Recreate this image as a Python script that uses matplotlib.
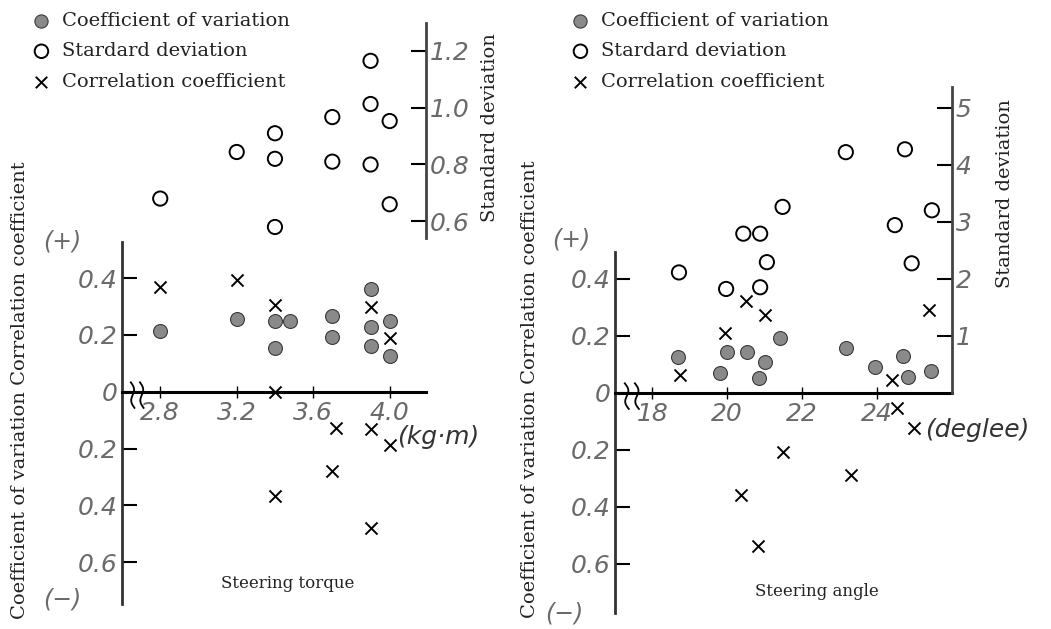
"""
Steering torque / steering angle vs. coefficient of variation,
standard deviation and correlation coefficient (two panels).
"""

import numpy as np
import matplotlib.pyplot as plt

# ---- left panel: steering torque (kg.m) ----
torque_cv_x = [2.8, 3.2, 3.4, 3.48, 3.4, 3.7, 3.7, 3.9, 3.9, 3.9, 4.0, 4.0]
torque_cv_y = [0.214, 0.256, 0.25, 0.25, 0.153, 0.266, 0.193, 0.36, 0.227, 0.16, 0.25, 0.126]

torque_sd_x = [2.8, 3.2, 3.4, 3.4, 3.4, 3.7, 3.7, 3.9, 3.9, 3.9, 4.0, 4.0]
torque_sd_y = [0.68, 0.844, 0.91, 0.82, 0.58, 0.967, 0.81, 1.165, 1.013, 0.80, 0.953, 0.66]

torque_r_x = [2.8, 3.2, 3.4, 3.9, 4.0, 3.4, 3.72, 3.9, 4.0, 3.7, 3.4, 3.9]
torque_r_y = [0.37, 0.393, 0.305, 0.30, 0.188, 0.0, -0.128, -0.131, -0.188, -0.28, -0.368, -0.48]

# ---- right panel: steering angle (degree) ----
angle_cv_x = [18.68, 19.82, 20.0, 20.53, 21.0, 20.84, 21.4, 23.17, 23.95, 24.7, 24.83, 25.44]
angle_cv_y = [0.126, 0.07, 0.144, 0.144, 0.109, 0.053, 0.193, 0.156, 0.091, 0.129, 0.056, 0.076]

angle_sd_x = [18.71, 19.97, 20.43, 20.88, 21.06, 20.88, 21.48, 23.17, 24.75, 24.48, 24.93, 25.47]
angle_sd_y = [2.11, 1.82, 2.79, 2.79, 2.29, 1.85, 3.26, 4.22, 4.27, 2.94, 2.27, 3.2]

angle_r_x = [18.73, 19.93, 20.5, 21.02, 25.4, 24.4, 24.55, 25.0, 21.48, 23.3, 20.37, 20.83]
angle_r_y = [0.062, 0.208, 0.32, 0.274, 0.29, 0.045, -0.055, -0.125, -0.207, -0.289, -0.359, -0.538]

torque_ticks = [2.8, 3.2, 3.6, 4.0]
angle_ticks = [18, 20, 22, 24]
corr_ticks = [-0.6, -0.4, -0.2, 0, 0.2, 0.4]
torque_sd_ticks = [0.6, 0.8, 1.0, 1.2]
angle_sd_ticks = [1, 2, 3, 4, 5]

SERIF = "DejaVu Serif"
HAND = dict(family="DejaVu Sans", style="italic", weight="light", color="#6a6a6a")
W, H = 1051, 629

fig = plt.figure(figsize=(W / 100, H / 100), dpi=100)
fig.patch.set_facecolor("white")


def px_box(x0, x1, ytop, ybot):
    return [x0 / W, 1 - ybot / H, (x1 - x0) / W, (ybot - ytop) / H]


def fmt(v):
    return f"{v:g}" if isinstance(v, int) else f"{v:.1f}"


def draw_panel(box, xlim, ylim, sd_scale, xt, sdt, left_top, sd_bounds,
               cv, sd, r, unit, unit_xy, xlabel, xlabel_xy):
    ax = fig.add_axes(box)
    ax.set_xlim(*xlim)
    ax.set_ylim(*ylim)
    ax.patch.set_alpha(0)

    for s in ("top", "right"):
        ax.spines[s].set_visible(False)
    ax.spines["bottom"].set_position(("data", 0))
    ax.spines["bottom"].set_linewidth(2.2)
    ax.spines["left"].set_linewidth(2.0)
    ax.spines["left"].set_color("#333333")
    ax.spines["left"].set_bounds(ylim[0], left_top)

    ax.set_xticks(xt)
    ax.set_xticklabels([fmt(v) for v in xt], **HAND, fontsize=18)
    ax.tick_params(axis="x", direction="inout", length=9, width=1.0, pad=2)
    ax.set_yticks(corr_ticks)
    ax.set_yticklabels([f"{abs(v):g}" if v != 0 else "0" for v in corr_ticks], **HAND, fontsize=18)
    ax.tick_params(axis="y", direction="in", length=11, width=1.5, pad=3)

    # standard deviation axis on the right
    ax2 = ax.twinx()
    ax2.set_ylim(ylim[0] * sd_scale, ylim[1] * sd_scale)
    for s in ("top", "left", "bottom"):
        ax2.spines[s].set_visible(False)
    ax2.spines["right"].set_linewidth(2.0)
    ax2.spines["right"].set_color("#444444")
    ax2.spines["right"].set_bounds(*sd_bounds)
    ax2.set_yticks(sdt)
    ax2.set_yticklabels([fmt(v) for v in sdt], **HAND, fontsize=18)
    ax2.tick_params(axis="y", direction="in", length=11, width=1.5, pad=3)

    h_cv = ax.scatter(*cv, s=100, color="#8a8a8a", edgecolors="#3a3a3a", linewidths=0.8, zorder=3)
    h_sd = ax2.scatter(*sd, s=105, facecolors="none", edgecolors="black", linewidths=1.4, zorder=3)
    h_r = ax.scatter(*r, s=75, marker="x", color="black", linewidths=1.4, zorder=3)

    # axis break mark on the x axis
    xb = xlim[0] + (xlim[1] - xlim[0]) * 0.035
    dx = (xlim[1] - xlim[0]) * 0.03
    t = np.linspace(-1, 1, 30)
    for k in (0, 1):
        ax.plot(xb + k * dx + 0.25 * dx * np.sin(t * np.pi) - 0.2 * dx * t,
                0.045 * t - 0.012, color="black", lw=1.3, zorder=4, clip_on=False)

    ax.text(*unit_xy, unit, transform=ax.transData, fontsize=18,
            family="DejaVu Sans", style="italic", weight="light", color="#333333",
            ha="left", va="center")
    fig.text(xlabel_xy[0] / W, 1 - xlabel_xy[1] / H, xlabel, family=SERIF,
             fontsize=12, ha="center", va="center", color="#222222")
    return h_cv, h_sd, h_r


# left panel
zero_l, ppu_l = 391.7, 284.0
box_l = px_box(122, 426, 23, 604)
ylim_l = ((zero_l - 604) / ppu_l, (zero_l - 23) / ppu_l)
handles = draw_panel(box_l, (2.6, 4.19), ylim_l, 1.0, torque_ticks, torque_sd_ticks,
                     (zero_l - 242) / ppu_l, ((zero_l - 238) / ppu_l, ylim_l[1]),
                     (torque_cv_x, torque_cv_y), (torque_sd_x, torque_sd_y),
                     (torque_r_x, torque_r_y), "(kg·m)", (4.04, -0.16),
                     "Steering torque", (288, 583))

# right panel
zero_r, ppu_r = 392.7, 285.0
box_r = px_box(615, 951.7, 87, 613)
ylim_r = ((zero_r - 613) / ppu_r, (zero_r - 87) / ppu_r)
draw_panel(box_r, (17.0, 26.0), ylim_r, 5.0, angle_ticks, angle_sd_ticks,
           (zero_r - 252) / ppu_r, (0, ylim_r[1] * 5),
           (angle_cv_x, angle_cv_y), (angle_sd_x, angle_sd_y),
           (angle_r_x, angle_r_y), "(deglee)", (25.3, -0.13),
           "Steering angle", (817, 591))

labels = ["Coefficient of variation", "Stardard deviation", "Correlation coefficient"]
for lx in (22, 561):
    fig.legend(handles, labels, loc="upper left", bbox_to_anchor=(lx / W, 1 - 2 / H),
               frameon=False, prop={"family": SERIF, "size": 14}, handlelength=1.0,
               handletextpad=0.55, labelspacing=0.65, borderpad=0, markerscale=0.95,
               labelcolor="#222222")

ylab = "Coefficient of variation Correlation coefficient"
fig.text(20 / W, 1 - 390 / H, ylab, rotation=90, family=SERIF, fontsize=14,
         ha="center", va="center", color="#222222")
fig.text(530 / W, 1 - 389 / H, ylab, rotation=90, family=SERIF, fontsize=14,
         ha="center", va="center", color="#222222")
fig.text(490 / W, 1 - 128 / H, "Standard deviation", rotation=90, family=SERIF,
         fontsize=14, ha="center", va="center", color="#222222")
fig.text(1005 / W, 1 - 194 / H, "Standard deviation", rotation=90, family=SERIF,
         fontsize=14, ha="center", va="center", color="#222222")

for x, y in ((62, 242), (571, 240)):
    fig.text(x / W, 1 - y / H, "(+)", **HAND, fontsize=17, ha="center", va="center")
for x, y in ((62, 600), (564, 613)):
    fig.text(x / W, 1 - y / H, "(−)", **HAND, fontsize=17, ha="center", va="center")

fig.savefig("out.png", dpi=100, facecolor="white")
